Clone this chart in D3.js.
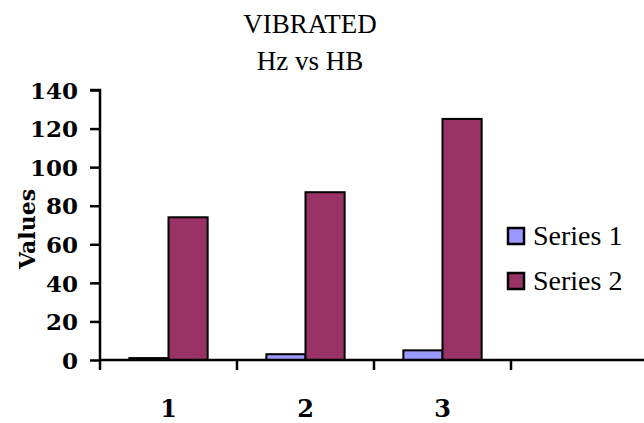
<!DOCTYPE html>
<html>
<head>
<meta charset="utf-8">
<script src="https://cdn.jsdelivr.net/npm/d3@7"></script>
<style>
  body { margin: 0; background: #fff; }
  text { font-family: "Liberation Serif", serif; fill: #000; }
</style>
</head>
<body>
<script>
// chart data
var categories = ["1", "2", "3", ""];
var seriesNames = ["Series 1", "Series 2"];
var series1 = [1, 3, 5, null];
var series2 = [74, 87, 125, null];
var yTicks = [0, 20, 40, 60, 80, 100, 120, 140];
var colors = ["#9999FF", "#993366"];

var width = 644, height = 423;
var plot = { left: 100, right: 648, top: 90, bottom: 360 };

var svg = d3.select("body").append("svg")
    .attr("width", width)
    .attr("height", height);

var x = d3.scaleBand()
    .domain(categories)
    .range([plot.left, plot.right])
    .padding(0);

var y = d3.scaleLinear()
    .domain([0, 140])
    .range([plot.bottom, plot.top]);

// Excel-like gap width 150%
var barW = x.bandwidth() / 3.5;
var groupOffset = barW * 0.75;

// titles
svg.append("text")
    .attr("x", 310).attr("y", 33)
    .attr("text-anchor", "middle")
    .style("font-size", "27px")
    .text("VIBRATED");
svg.append("text")
    .attr("x", 310).attr("y", 70)
    .attr("text-anchor", "middle")
    .style("font-size", "27px")
    .text("Hz vs HB");

// bars
var allSeries = [series1, series2];
allSeries.forEach(function (vals, si) {
  svg.append("g").selectAll("rect")
    .data(vals.map(function (v, i) { return { v: v, c: categories[i] }; })
              .filter(function (d) { return d.v !== null; }))
    .enter().append("rect")
      .attr("x", function (d) { return x(d.c) + groupOffset + si * barW; })
      .attr("y", function (d) { return y(d.v); })
      .attr("width", barW)
      .attr("height", function (d) { return y(0) - y(d.v); })
      .attr("fill", colors[si])
      .attr("stroke", "#000")
      .attr("stroke-width", 2);
});

// y axis
var yAxis = svg.append("g")
    .attr("transform", "translate(" + plot.left + ",0)")
    .call(d3.axisLeft(y).tickValues(yTicks).tickSize(10).tickPadding(12));
yAxis.select(".domain").attr("stroke-width", 2.5)
    .attr("d", "M-10," + plot.top + "H0V" + (plot.bottom + 10));
yAxis.selectAll(".tick line").attr("stroke-width", 2.5);
yAxis.selectAll(".tick text")
    .style("font-family", "DejaVu Serif")
    .style("font-size", "23px")
    .style("font-weight", "bold")
    .attr("dy", "0.36em");

// x axis
var xAxis = svg.append("g")
    .attr("transform", "translate(0," + plot.bottom + ")");
xAxis.append("line")
    .attr("x1", plot.left).attr("x2", plot.right)
    .attr("stroke", "#000").attr("stroke-width", 2.5);
xAxis.selectAll(".xtick")
    .data(categories)
    .enter().append("line")
      .attr("x1", function (d) { return x(d) + x.bandwidth(); })
      .attr("x2", function (d) { return x(d) + x.bandwidth(); })
      .attr("y1", 0).attr("y2", 10)
      .attr("stroke", "#000").attr("stroke-width", 2.5);
xAxis.selectAll(".xlabel")
    .data(categories)
    .enter().append("text")
      .attr("x", function (d) { return x(d) + x.bandwidth() / 2; })
      .attr("y", 57)
      .attr("text-anchor", "middle")
      .style("font-family", "DejaVu Serif")
      .style("font-size", "24px")
      .style("font-weight", "bold")
      .text(function (d) { return d; });

// y axis label
svg.append("text")
    .attr("transform", "translate(35,229) rotate(-90)")
    .attr("text-anchor", "middle")
    .style("font-family", "DejaVu Serif")
    .style("font-size", "22px")
    .style("font-weight", "bold")
    .text("Values");

// legend
var legend = svg.append("g").selectAll("g")
    .data(seriesNames)
    .enter().append("g")
      .attr("transform", function (d, i) { return "translate(508," + (228 + i * 45) + ")"; });
legend.append("rect")
    .attr("width", 16).attr("height", 16)
    .attr("fill", function (d, i) { return colors[i]; })
    .attr("stroke", "#000").attr("stroke-width", 2.5);
legend.append("text")
    .attr("x", 25).attr("y", 17)
    .style("font-size", "28px")
    .text(function (d) { return d; });
</script>
</body>
</html>
